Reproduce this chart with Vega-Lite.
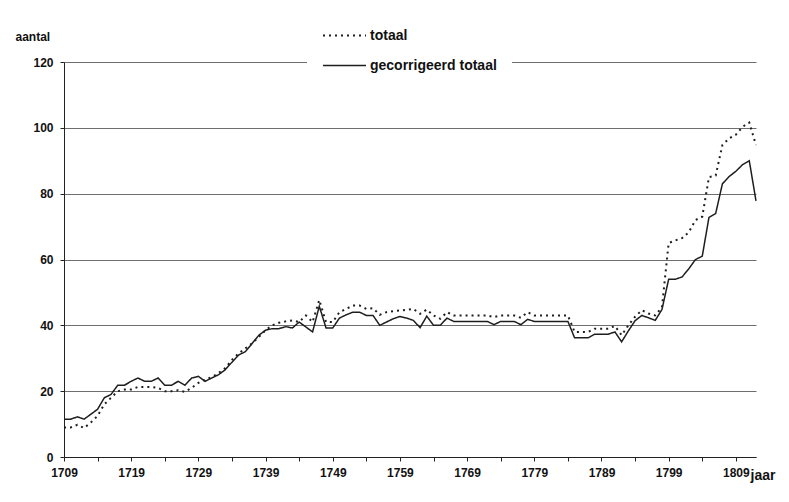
{
  "$schema": "https://vega.github.io/schema/vega-lite/v6.json",
  "width": 692,
  "height": 395,
  "autosize": {"type": "none"},
  "padding": {"left": 64, "top": 62, "right": 33, "bottom": 45},
  "background": "white",
  "data": {"values": [
    {"jaar":1709,"totaal":9,"gecorrigeerd totaal":11.5},
    {"jaar":1710,"totaal":9,"gecorrigeerd totaal":11.5},
    {"jaar":1711,"totaal":9.8,"gecorrigeerd totaal":12.2},
    {"jaar":1712,"totaal":8.8,"gecorrigeerd totaal":11.5},
    {"jaar":1713,"totaal":10.5,"gecorrigeerd totaal":13},
    {"jaar":1714,"totaal":12.5,"gecorrigeerd totaal":14.5},
    {"jaar":1715,"totaal":16,"gecorrigeerd totaal":18},
    {"jaar":1716,"totaal":18,"gecorrigeerd totaal":19},
    {"jaar":1717,"totaal":20,"gecorrigeerd totaal":21.8},
    {"jaar":1718,"totaal":20.5,"gecorrigeerd totaal":21.8},
    {"jaar":1719,"totaal":20.5,"gecorrigeerd totaal":23},
    {"jaar":1720,"totaal":21.3,"gecorrigeerd totaal":24},
    {"jaar":1721,"totaal":21.3,"gecorrigeerd totaal":23},
    {"jaar":1722,"totaal":21.3,"gecorrigeerd totaal":23},
    {"jaar":1723,"totaal":21,"gecorrigeerd totaal":24},
    {"jaar":1724,"totaal":20,"gecorrigeerd totaal":21.8},
    {"jaar":1725,"totaal":20,"gecorrigeerd totaal":21.8},
    {"jaar":1726,"totaal":20.3,"gecorrigeerd totaal":23},
    {"jaar":1727,"totaal":19.8,"gecorrigeerd totaal":21.8},
    {"jaar":1728,"totaal":21,"gecorrigeerd totaal":24},
    {"jaar":1729,"totaal":22.5,"gecorrigeerd totaal":24.5},
    {"jaar":1730,"totaal":23.5,"gecorrigeerd totaal":23},
    {"jaar":1731,"totaal":24.3,"gecorrigeerd totaal":24},
    {"jaar":1732,"totaal":25.5,"gecorrigeerd totaal":25},
    {"jaar":1733,"totaal":27,"gecorrigeerd totaal":26.5},
    {"jaar":1734,"totaal":29.5,"gecorrigeerd totaal":28.8},
    {"jaar":1735,"totaal":31.5,"gecorrigeerd totaal":31},
    {"jaar":1736,"totaal":33,"gecorrigeerd totaal":32},
    {"jaar":1737,"totaal":34.5,"gecorrigeerd totaal":34.5},
    {"jaar":1738,"totaal":36.5,"gecorrigeerd totaal":37},
    {"jaar":1739,"totaal":38.5,"gecorrigeerd totaal":38.5},
    {"jaar":1740,"totaal":40,"gecorrigeerd totaal":39},
    {"jaar":1741,"totaal":40.8,"gecorrigeerd totaal":39},
    {"jaar":1742,"totaal":41.2,"gecorrigeerd totaal":39.6},
    {"jaar":1743,"totaal":41.5,"gecorrigeerd totaal":39.2},
    {"jaar":1744,"totaal":41,"gecorrigeerd totaal":41},
    {"jaar":1745,"totaal":43,"gecorrigeerd totaal":39.5},
    {"jaar":1746,"totaal":41,"gecorrigeerd totaal":38},
    {"jaar":1747,"totaal":47.7,"gecorrigeerd totaal":45.8},
    {"jaar":1748,"totaal":41,"gecorrigeerd totaal":39.2},
    {"jaar":1749,"totaal":41,"gecorrigeerd totaal":39.2},
    {"jaar":1750,"totaal":44,"gecorrigeerd totaal":42.2},
    {"jaar":1751,"totaal":45,"gecorrigeerd totaal":43.2},
    {"jaar":1752,"totaal":46,"gecorrigeerd totaal":44},
    {"jaar":1753,"totaal":46,"gecorrigeerd totaal":44},
    {"jaar":1754,"totaal":45,"gecorrigeerd totaal":43},
    {"jaar":1755,"totaal":45.2,"gecorrigeerd totaal":43},
    {"jaar":1756,"totaal":43.2,"gecorrigeerd totaal":40},
    {"jaar":1757,"totaal":44,"gecorrigeerd totaal":41},
    {"jaar":1758,"totaal":44.3,"gecorrigeerd totaal":42},
    {"jaar":1759,"totaal":44.5,"gecorrigeerd totaal":42.7},
    {"jaar":1760,"totaal":44.7,"gecorrigeerd totaal":42.2},
    {"jaar":1761,"totaal":45,"gecorrigeerd totaal":41.5},
    {"jaar":1762,"totaal":43.5,"gecorrigeerd totaal":39.3},
    {"jaar":1763,"totaal":44.8,"gecorrigeerd totaal":42.8},
    {"jaar":1764,"totaal":43,"gecorrigeerd totaal":40},
    {"jaar":1765,"totaal":42,"gecorrigeerd totaal":40},
    {"jaar":1766,"totaal":44,"gecorrigeerd totaal":42.2},
    {"jaar":1767,"totaal":43,"gecorrigeerd totaal":41.2},
    {"jaar":1768,"totaal":43,"gecorrigeerd totaal":41.2},
    {"jaar":1769,"totaal":43,"gecorrigeerd totaal":41.2},
    {"jaar":1770,"totaal":43,"gecorrigeerd totaal":41.2},
    {"jaar":1771,"totaal":43,"gecorrigeerd totaal":41.2},
    {"jaar":1772,"totaal":43,"gecorrigeerd totaal":41.2},
    {"jaar":1773,"totaal":42.5,"gecorrigeerd totaal":40.2},
    {"jaar":1774,"totaal":43,"gecorrigeerd totaal":41.2},
    {"jaar":1775,"totaal":43,"gecorrigeerd totaal":41.2},
    {"jaar":1776,"totaal":43,"gecorrigeerd totaal":41.2},
    {"jaar":1777,"totaal":42.3,"gecorrigeerd totaal":40.2},
    {"jaar":1778,"totaal":44,"gecorrigeerd totaal":41.8},
    {"jaar":1779,"totaal":43,"gecorrigeerd totaal":41.2},
    {"jaar":1780,"totaal":43,"gecorrigeerd totaal":41.2},
    {"jaar":1781,"totaal":43,"gecorrigeerd totaal":41.2},
    {"jaar":1782,"totaal":43,"gecorrigeerd totaal":41.2},
    {"jaar":1783,"totaal":43,"gecorrigeerd totaal":41.2},
    {"jaar":1784,"totaal":43,"gecorrigeerd totaal":41.2},
    {"jaar":1785,"totaal":38,"gecorrigeerd totaal":36.2},
    {"jaar":1786,"totaal":38,"gecorrigeerd totaal":36.2},
    {"jaar":1787,"totaal":38,"gecorrigeerd totaal":36.2},
    {"jaar":1788,"totaal":39,"gecorrigeerd totaal":37.3},
    {"jaar":1789,"totaal":39,"gecorrigeerd totaal":37.3},
    {"jaar":1790,"totaal":39,"gecorrigeerd totaal":37.3},
    {"jaar":1791,"totaal":39.8,"gecorrigeerd totaal":38},
    {"jaar":1792,"totaal":37,"gecorrigeerd totaal":35},
    {"jaar":1793,"totaal":40,"gecorrigeerd totaal":38.3},
    {"jaar":1794,"totaal":42.6,"gecorrigeerd totaal":41.4},
    {"jaar":1795,"totaal":44.6,"gecorrigeerd totaal":43},
    {"jaar":1796,"totaal":43.6,"gecorrigeerd totaal":42.3},
    {"jaar":1797,"totaal":43,"gecorrigeerd totaal":41.5},
    {"jaar":1798,"totaal":45.5,"gecorrigeerd totaal":44.8},
    {"jaar":1799,"totaal":65,"gecorrigeerd totaal":54},
    {"jaar":1800,"totaal":65.8,"gecorrigeerd totaal":54},
    {"jaar":1801,"totaal":66.5,"gecorrigeerd totaal":54.7},
    {"jaar":1802,"totaal":68.3,"gecorrigeerd totaal":57.2},
    {"jaar":1803,"totaal":72,"gecorrigeerd totaal":60},
    {"jaar":1804,"totaal":73,"gecorrigeerd totaal":61},
    {"jaar":1805,"totaal":85,"gecorrigeerd totaal":72.8},
    {"jaar":1806,"totaal":85.5,"gecorrigeerd totaal":74},
    {"jaar":1807,"totaal":94.8,"gecorrigeerd totaal":83},
    {"jaar":1808,"totaal":96.8,"gecorrigeerd totaal":85.2},
    {"jaar":1809,"totaal":97.9,"gecorrigeerd totaal":86.8},
    {"jaar":1810,"totaal":100.3,"gecorrigeerd totaal":88.8},
    {"jaar":1811,"totaal":101.6,"gecorrigeerd totaal":90},
    {"jaar":1812,"totaal":94.8,"gecorrigeerd totaal":77.8}
  ]},
  "transform": [{"fold": ["totaal", "gecorrigeerd totaal"], "as": ["reeks", "aantal"]}],
  "mark": {"type": "line", "color": "#1e1e1e", "strokeCap": "butt", "clip": false},
  "encoding": {
    "x": {
      "field": "jaar", "type": "quantitative",
      "scale": {"domain": [1709, 1812], "nice": false, "zero": false},
      "axis": {
        "values": [1709,1714,1719,1724,1729,1734,1739,1744,1749,1754,1759,1764,1769,1774,1779,1784,1789,1794,1799,1804,1809],
        "format": "d",
        "labelExpr": "(datum.value - 1709) % 10 == 0 ? datum.label : ''",
        "grid": false,
        "labelPadding": 6,
        "labelFlush": false,
        "title": "jaar",
        "titleX": 686, "titleY": 22,
        "titleAlign": "left", "titleBaseline": "alphabetic",
        "titleFontSize": 14
      }
    },
    "y": {
      "field": "aantal", "type": "quantitative",
      "scale": {"domain": [0, 120], "nice": false},
      "axis": {
        "values": [0, 20, 40, 60, 80, 100, 120],
        "grid": true,
        "labelPadding": 7,
        "title": "aantal",
        "titleAngle": 0,
        "titleX": -49, "titleY": -22,
        "titleAlign": "left", "titleBaseline": "alphabetic",
        "titleFontSize": 12
      }
    },
    "strokeDash": {
      "field": "reeks", "type": "nominal",
      "scale": {"domain": ["totaal", "gecorrigeerd totaal"], "range": [[2, 4], [1, 0]]},
      "legend": {
        "title": null,
        "orient": "none",
        "legendX": 243,
        "legendY": -64,
        "fillColor": "white",
        "padding": 15,
        "symbolType": "stroke",
        "symbolSize": 1849,
        "symbolStrokeWidth": 1.6,
        "symbolStrokeColor": "#1e1e1e",
        "labelOffset": 3,
        "labelFontSize": 14,
        "labelFont": "Liberation Sans",
        "labelFontWeight": "bold",
        "labelColor": "#111",
        "rowPadding": -3
      }
    },
    "strokeWidth": {
      "field": "reeks", "type": "nominal",
      "scale": {"domain": ["totaal", "gecorrigeerd totaal"], "range": [2, 1.5]},
      "legend": null
    }
  },
  "config": {
    "view": {"stroke": null},
    "font": "Liberation Sans",
    "axis": {
      "labelFont": "Liberation Sans",
      "labelFontSize": 12,
      "labelFontWeight": "bold",
      "labelColor": "#111",
      "titleFont": "Liberation Sans",
      "titleFontWeight": "bold",
      "titleColor": "#111",
      "domainColor": "#222",
      "domainWidth": 1,
      "tickColor": "#222",
      "tickSize": 4,
      "gridColor": "#6e6e6e",
      "gridWidth": 1
    }
  }
}
